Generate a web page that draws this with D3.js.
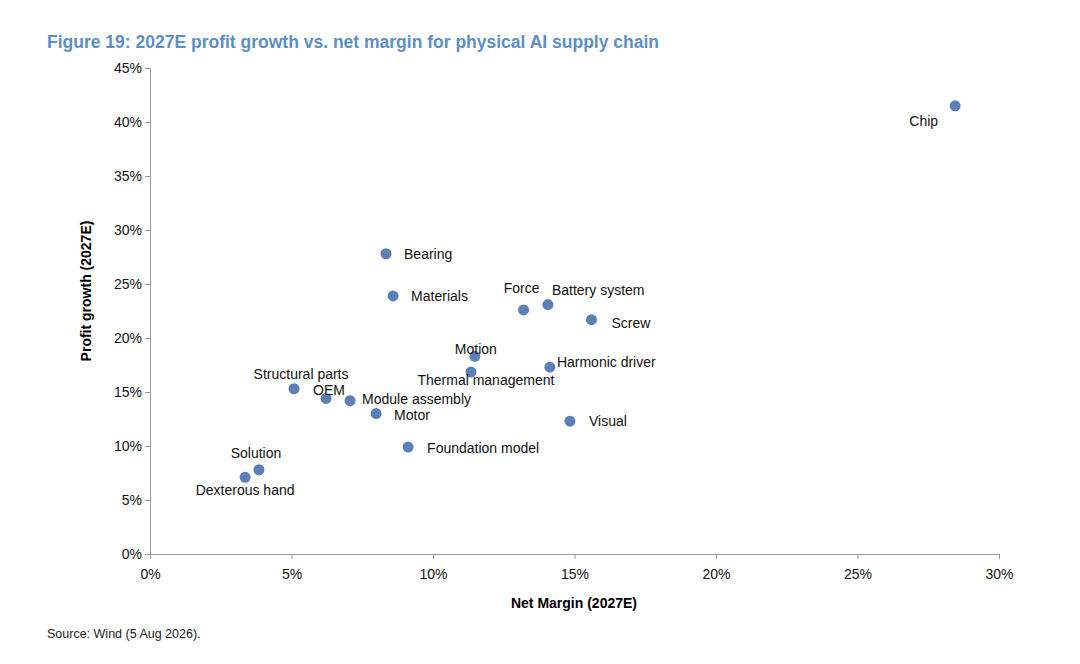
<!DOCTYPE html>
<html><head><meta charset="utf-8">
<script src="https://cdn.jsdelivr.net/npm/d3@7"></script>
<style>body{margin:0;background:#fff;font-family:"Liberation Sans",Arial,sans-serif}</style>
</head><body><svg id="c" width="1080" height="664"></svg>
<script>
const names = ["Chip","Bearing","Materials","Force","Battery system","Screw","Motion","Thermal management","Harmonic driver","Structural parts","OEM","Module assembly","Motor","Visual","Foundation model","Solution","Dexterous hand"];
const netMargin = [28.45,8.34,8.59,13.2,14.06,15.6,11.48,11.34,14.13,5.09,6.22,7.07,7.99,14.84,9.12,3.85,3.36];
const profitGrowth = [41.5,27.8,23.9,22.6,23.1,21.7,18.3,16.85,17.3,15.3,14.4,14.2,13.0,12.3,9.9,7.8,7.1];
const xTicks = [0,5,10,15,20,25,30];
const yTicks = [0,5,10,15,20,25,30,35,40,45];
// label placement (style): [dx, dy, anchor]
const labelPlace = [[-17,20,"end"],[18,5,"start"],[18,5,"start"],[-2,-17,"middle"],[4,-10,"start"],[20,8,"start"],[1,-2,"middle"],[15,13,"middle"],[7,0,"start"],[7,-10,"middle"],[3,-3,"middle"],[12,3,"start"],[18,6,"start"],[19,5,"start"],[19,6,"start"],[-3,-12,"middle"],[0,18,"middle"]];

const svg = d3.select("#c");
const x = d3.scaleLinear().domain([0,30]).range([150,999]);
const y = d3.scaleLinear().domain([0,45]).range([554,68]);

svg.append("text").attr("x",47).attr("y",48).attr("fill","#5b8fc9").attr("font-weight","bold").attr("font-size",17.5)
  .text("Figure 19: 2027E profit growth vs. net margin for physical AI supply chain");

const xa = svg.append("g").attr("transform","translate(0,554)").call(d3.axisBottom(x).tickValues(xTicks).tickFormat(d=>d+"%").tickSizeOuter(0).tickSize(5));
const ya = svg.append("g").attr("transform","translate(150,0)").call(d3.axisLeft(y).tickValues(yTicks).tickFormat(d=>d+"%").tickSizeOuter(0).tickSize(5));
[xa,ya].forEach(a=>{a.selectAll("path,line").attr("stroke","#999");a.selectAll("text").attr("font-size",14).attr("fill","#111").attr("font-family","Liberation Sans, Arial, sans-serif");});
xa.selectAll("text").attr("dy","1.2em");

svg.append("text").attr("x",574).attr("y",608).attr("text-anchor","middle").attr("font-weight","bold").attr("font-size",14).text("Net Margin (2027E)");
svg.append("text").attr("transform","translate(91,291) rotate(-90)").attr("text-anchor","middle").attr("font-weight","bold").attr("font-size",14).text("Profit growth (2027E)");

const idx = d3.range(names.length);
svg.selectAll("circle").data(idx).join("circle").attr("cx",i=>x(netMargin[i])).attr("cy",i=>y(profitGrowth[i])).attr("r",5.5).attr("fill","#5b80b6");
svg.selectAll("text.lbl").data(idx).join("text").attr("class","lbl")
  .attr("x",i=>x(netMargin[i])+labelPlace[i][0]).attr("y",i=>y(profitGrowth[i])+labelPlace[i][1])
  .attr("text-anchor",i=>labelPlace[i][2]).attr("font-size",14).attr("fill","#111").text(i=>names[i]);

svg.append("text").attr("x",47).attr("y",638).attr("font-size",12.5).attr("fill","#222").text("Source: Wind (5 Aug 2026).");
</script></body></html>
